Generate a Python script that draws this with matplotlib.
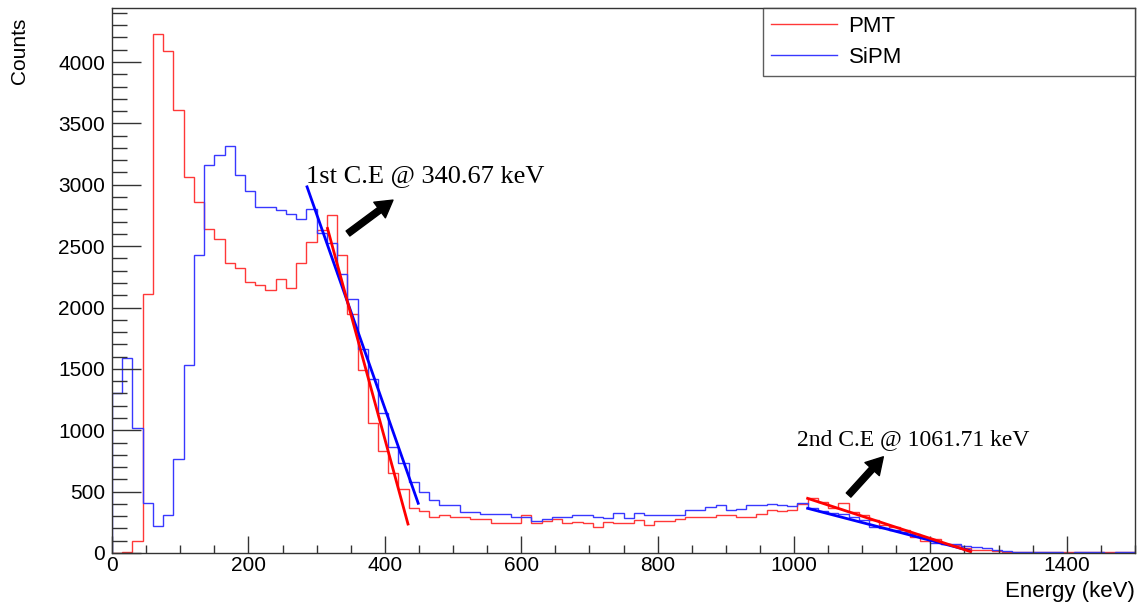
import matplotlib
matplotlib.use('Agg')
import matplotlib.pyplot as plt
import numpy as np

plt.rcParams['font.family'] = ['Liberation Sans', 'DejaVu Sans']

# histogram binning: 100 bins of 15 keV from 0 to 1500 keV
edges = np.linspace(0, 1500, 101)

pmt = [0, 12, 98, 2107, 4226, 4090, 3607, 3064, 2858, 2641,
       2555, 2359, 2321, 2209, 2182, 2142, 2229, 2156, 2359, 2530,
       2630, 2752, 2424, 1950, 1490, 1061, 830, 649, 521, 364,
       345, 291, 309, 293, 293, 277, 277, 247, 247, 247,
       307, 247, 258, 280, 247, 255, 247, 214, 252, 247,
       247, 269, 231, 258, 263, 274, 296, 296, 296, 307,
       307, 296, 296, 318, 350, 345, 350, 400, 445, 418,
       364, 410, 336, 309, 269, 228, 214, 187, 133, 98,
       111, 71, 65, 38, 24, 24, 19, 11, 8, 6,
       10, 5, 8, 12, 6, 5, 10, 8, 6, 12]

sipm = [1300, 1585, 1021, 410, 223, 307, 765, 1528, 2424, 3160,
        3241, 3314, 3081, 2953, 2815, 2815, 2793, 2758, 2720, 2799,
        2603, 2522, 2272, 2066, 1659, 1419, 1138, 866, 735, 581,
        499, 432, 391, 391, 334, 334, 315, 315, 315, 296,
        296, 261, 280, 296, 296, 307, 307, 296, 289, 323,
        289, 323, 310, 310, 310, 310, 347, 347, 375, 388,
        347, 355, 388, 388, 399, 395, 385, 405, 364, 345,
        323, 315, 296, 269, 214, 201, 187, 174, 155, 120,
        79, 71, 71, 57, 51, 38, 24, 19, 11, 11,
        6, 5, 6, 4, 5, 6, 5, 4, 6, 5]

# linear fits of the Compton edges (start, end)
fit1_sipm_x = [286, 449]
fit1_sipm_y = [2983, 405]
fit1_pmt_x = [316, 434]
fit1_pmt_y = [2644, 236]
fit2_sipm_x = [1020, 1258]
fit2_sipm_y = [364, 19]
fit2_pmt_x = [1020, 1259]
fit2_pmt_y = [445, 11]

fig = plt.figure(figsize=(11.39, 6.04), dpi=100)
ax = fig.add_axes([112/1139, 1 - 553/604, 1023/1139, 545/604])

ax.stairs(pmt, edges, color='#ff3838', lw=1.0, label='PMT')
ax.stairs(sipm, edges, color='#3838ff', lw=1.0, label='SiPM')

ax.plot(fit1_sipm_x, fit1_sipm_y, color='blue', lw=2)
ax.plot(fit1_pmt_x, fit1_pmt_y, color='red', lw=2)
ax.plot(fit2_sipm_x, fit2_sipm_y, color='blue', lw=2)
ax.plot(fit2_pmt_x, fit2_pmt_y, color='red', lw=2)

arrow = dict(facecolor='black', edgecolor='black', width=4.5, headwidth=14, headlength=12, shrink=0)
ax.annotate('', xy=(412, 2875), xytext=(346, 2603), arrowprops=arrow)
ax.annotate('', xy=(1131, 784), xytext=(1080, 472), arrowprops=arrow)
ax.text(285, 3024, '1st C.E @ 340.67 keV', family='Liberation Serif', fontsize=19, va='baseline')
ax.text(1004, 879, '2nd C.E @ 1061.71 keV', family='Liberation Serif', fontsize=17, va='baseline')

ax.set_xlim(0, 1500)
ax.set_ylim(0, 4440)
ax.set_xticks(np.arange(0, 1500, 200))
ax.set_xticks(np.arange(0, 1501, 50), minor=True)
ax.set_yticks(np.arange(0, 4001, 500))
ax.set_yticks(np.arange(0, 4401, 100), minor=True)
ax.tick_params(axis='both', which='both', direction='in', width=1, color='#333333', labelsize=15)
ax.tick_params(axis='y', which='major', length=21, pad=5)
ax.tick_params(axis='y', which='minor', length=11)
ax.tick_params(axis='x', which='major', length=12, pad=2)
ax.tick_params(axis='x', which='minor', length=6)
for s in ax.spines.values():
    s.set_color('#333333')
    s.set_linewidth(1)

fig.text(20/1139, 1 - 18/604, 'Counts', rotation=90, ha='center', va='top', fontsize=15)
fig.text(1135/1139, 1 - 591/604, 'Energy (keV)', ha='right', va='center', fontsize=16)

leg = ax.legend(loc='upper left', bbox_to_anchor=((763 - 112)/1023, 0, (1135 - 763)/1023, 1),
                mode='expand', borderaxespad=0, fancybox=False, fontsize=16,
                handlelength=3.0, handletextpad=0.5, labelspacing=0.45, borderpad=0.35)
leg.get_frame().set_edgecolor('#333333')
leg.get_frame().set_linewidth(1)

fig.savefig('out.png', dpi=100)
